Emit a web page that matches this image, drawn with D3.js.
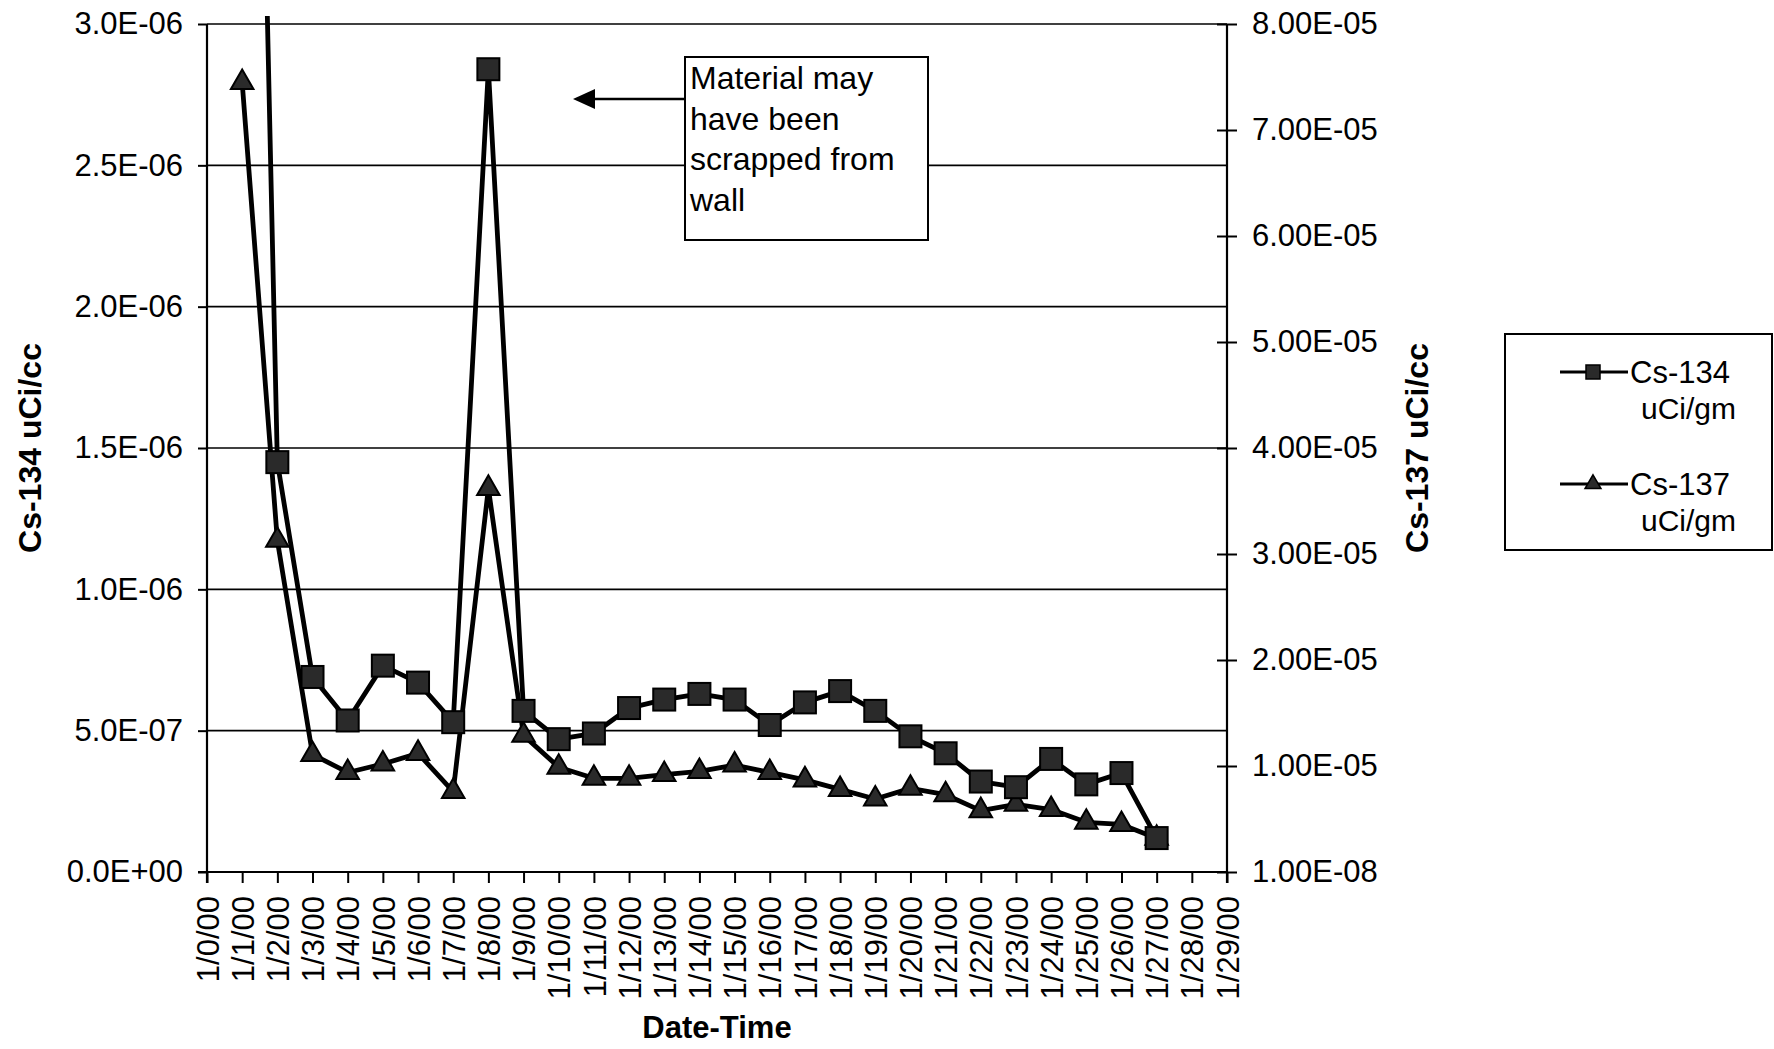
<!DOCTYPE html>
<html>
<head>
<meta charset="utf-8">
<script src="https://cdn.jsdelivr.net/npm/d3@7"></script>
<style>
  body { margin: 0; background: #fff; }
  text { font-family: "Liberation Sans", Arial, sans-serif; fill: #000; }
</style>
</head>
<body>
<div id="chart"></div>
<script>
// x axis categories (day index 0..29)
const dateLabels = ["1/0/00","1/1/00","1/2/00","1/3/00","1/4/00","1/5/00","1/6/00","1/7/00","1/8/00","1/9/00",
  "1/10/00","1/11/00","1/12/00","1/13/00","1/14/00","1/15/00","1/16/00","1/17/00","1/18/00","1/19/00",
  "1/20/00","1/21/00","1/22/00","1/23/00","1/24/00","1/25/00","1/26/00","1/27/00","1/28/00","1/29/00"];

const days = [1,2,3,4,5,6,7,8,9,10,11,12,13,14,15,16,17,18,19,20,21,22,23,24,25,26,27];

// Cs-134 uCi/gm  (left axis)
const cs134 = [7.0e-6,1.45e-6,0.69e-6,0.536e-6,0.73e-6,0.67e-6,0.53e-6,2.84e-6,0.57e-6,0.47e-6,
  0.49e-6,0.58e-6,0.61e-6,0.63e-6,0.61e-6,0.52e-6,0.60e-6,0.64e-6,0.57e-6,0.48e-6,
  0.42e-6,0.32e-6,0.30e-6,0.40e-6,0.31e-6,0.35e-6,0.12e-6];

// Cs-137 uCi/gm  (right axis)
const cs137 = [7.45e-5,3.13e-5,1.11e-5,0.94e-5,1.02e-5,1.12e-5,0.76e-5,3.62e-5,1.29e-5,0.99e-5,
  0.885e-5,0.885e-5,0.92e-5,0.95e-5,1.01e-5,0.94e-5,0.87e-5,0.78e-5,0.69e-5,0.79e-5,
  0.73e-5,0.58e-5,0.64e-5,0.59e-5,0.47e-5,0.45e-5,0.32e-5];

const leftTicks = [0, 5e-7, 1e-6, 1.5e-6, 2e-6, 2.5e-6, 3e-6];
const rightTicks = [1e-8, 1.001e-5, 2.001e-5, 3.001e-5, 4.001e-5, 5.001e-5, 6.001e-5, 7.001e-5, 8.001e-5];

const noteLines = ["Material may", "have been", "scrapped from", "wall"];

// excel style 0.0E+00
function sci(v, dec) {
  if (v === 0) return (0).toFixed(dec) + "E+00";
  let e = Math.floor(Math.log10(Math.abs(v)));
  let m = v / Math.pow(10, e);
  if (+m.toFixed(dec) >= 10) { m /= 10; e += 1; }
  return m.toFixed(dec) + "E" + (e < 0 ? "-" : "+") + String(Math.abs(e)).padStart(2, "0");
}

const width = 1774, height = 1049;
const margin = {top: 24, right: 547, bottom: 177, left: 207};
const x0 = margin.left, x1 = width - margin.right;
const y0 = margin.top, y1 = height - margin.bottom;

const svg = d3.select("#chart").append("svg")
  .attr("width", width)
  .attr("height", height);

svg.append("rect").attr("width", width).attr("height", height).attr("fill", "#fff");

const x = d3.scaleLinear().domain([0, 29]).range([x0, x1]);
const yL = d3.scaleLinear().domain([0, 3e-6]).range([y1, y0]);
const yR = d3.scaleLinear().domain([1e-8, 8.001e-5]).range([y1, y0]);

// gridlines
svg.append("g").selectAll("line")
  .data(leftTicks)
  .enter().append("line")
  .attr("x1", x0).attr("x2", x1)
  .attr("y1", d => yL(d)).attr("y2", d => yL(d))
  .attr("stroke", "#000").attr("stroke-width", 1.6);

// left axis
const gL = svg.append("g")
  .attr("transform", "translate(" + x0 + ",0)")
  .call(d3.axisLeft(yL).tickValues(leftTicks).tickSize(9).tickPadding(15).tickFormat(d => sci(d, 1)));

// right axis
const gR = svg.append("g")
  .attr("transform", "translate(" + x1 + ",0)")
  .call(d3.axisRight(yR).tickValues(rightTicks).tickSize(10).tickPadding(15).tickFormat(d => sci(d, 2)));
gR.selectAll(".tick line").attr("x1", -10);

// x axis
const gX = svg.append("g")
  .attr("transform", "translate(0," + y1 + ")")
  .call(d3.axisBottom(x).tickValues(d3.range(30)).tickSize(11).tickFormat(i => dateLabels[i]));
gX.selectAll(".tick text")
  .attr("transform", "rotate(-90)")
  .attr("text-anchor", "end")
  .attr("x", -24).attr("y", 0).attr("dy", "0.36em");

[gL, gR, gX].forEach(g => {
  g.select(".domain").remove();
  g.selectAll(".tick line").attr("stroke", "#000").attr("stroke-width", 2);
  g.selectAll(".tick text").style("font-size", "31px").attr("fill", "#000");
});

// axis lines
svg.append("line").attr("x1", x0).attr("x2", x0).attr("y1", y0).attr("y2", y1 + 11)
  .attr("stroke", "#000").attr("stroke-width", 2.2);
svg.append("line").attr("x1", x1).attr("x2", x1).attr("y1", y0).attr("y2", y1 + 11)
  .attr("stroke", "#000").attr("stroke-width", 2.2);
svg.append("line").attr("x1", x0 - 9).attr("x2", x1).attr("y1", y1).attr("y2", y1)
  .attr("stroke", "#000").attr("stroke-width", 2.2);

// clip so the first Cs-134 point runs off the top
svg.append("clipPath").attr("id", "plotclip")
  .append("rect").attr("x", x0 - 10).attr("y", y0 - 8).attr("width", x1 - x0 + 20).attr("height", y1 - y0 + 16);

const d134 = days.map((d, i) => ({day: d, v: cs134[i]}));
const d137 = days.map((d, i) => ({day: d, v: cs137[i]}));

const plot = svg.append("g").attr("clip-path", "url(#plotclip)");

const line137 = d3.line().x(d => x(d.day)).y(d => yR(d.v));
const line134 = d3.line().x(d => x(d.day)).y(d => yL(d.v));

plot.append("path").datum(d137)
  .attr("d", line137)
  .attr("fill", "none").attr("stroke", "#000").attr("stroke-width", 4.8).attr("stroke-linejoin", "round");

plot.selectAll(".tri").data(d137).enter().append("path")
  .attr("class", "tri")
  .attr("d", d3.symbol(d3.symbolTriangle, 220))
  .attr("transform", d => "translate(" + x(d.day) + "," + yR(d.v) + ")")
  .attr("fill", "#2a2a2a").attr("stroke", "#000").attr("stroke-width", 2);

plot.append("path").datum(d134)
  .attr("d", line134)
  .attr("fill", "none").attr("stroke", "#000").attr("stroke-width", 4.8).attr("stroke-linejoin", "round");

plot.selectAll(".sq").data(d134.filter(d => yL(d.v) > y0)).enter().append("rect")
  .attr("class", "sq")
  .attr("x", d => x(d.day) - 11).attr("y", d => yL(d.v) - 11)
  .attr("width", 22).attr("height", 22)
  .attr("fill", "#2a2a2a").attr("stroke", "#000").attr("stroke-width", 2);

// annotation
const note = svg.append("g");
note.append("line").attr("x1", 685).attr("x2", 590).attr("y1", 99).attr("y2", 99)
  .attr("stroke", "#000").attr("stroke-width", 2.5);
note.append("path").attr("d", "M573,99L595,89L595,109Z").attr("fill", "#000");
note.append("rect").attr("x", 685).attr("y", 57).attr("width", 243).attr("height", 183)
  .attr("fill", "#fff").attr("stroke", "#000").attr("stroke-width", 2);
note.selectAll("text").data(noteLines).enter().append("text")
  .attr("x", 690).attr("y", (d, i) => 89 + i * 40.5)
  .style("font-size", "32px")
  .text(d => d);

// axis titles
svg.append("text")
  .attr("transform", "translate(41," + ((y0 + y1) / 2) + ") rotate(-90)")
  .attr("text-anchor", "middle")
  .style("font-size", "32px").style("font-weight", "bold")
  .text("Cs-134 uCi/cc");

svg.append("text")
  .attr("transform", "translate(1428," + ((y0 + y1) / 2) + ") rotate(-90)")
  .attr("text-anchor", "middle")
  .style("font-size", "32px").style("font-weight", "bold")
  .text("Cs-137 uCi/cc");

svg.append("text")
  .attr("x", (x0 + x1) / 2).attr("y", 1038)
  .attr("text-anchor", "middle")
  .style("font-size", "31px").style("font-weight", "bold")
  .text("Date-Time");

// legend
const legend = svg.append("g");
legend.append("rect").attr("x", 1505).attr("y", 334).attr("width", 267).attr("height", 216)
  .attr("fill", "#fff").attr("stroke", "#000").attr("stroke-width", 2);

const legItems = [
  {name: ["Cs-134", "uCi/gm"], shape: "sq", y: 372},
  {name: ["Cs-137", "uCi/gm"], shape: "tri", y: 484}
];
const li = legend.selectAll(".li").data(legItems).enter().append("g")
  .attr("transform", d => "translate(0," + d.y + ")");
li.append("line").attr("x1", 1560).attr("x2", 1628).attr("y1", 0).attr("y2", 0)
  .attr("stroke", "#000").attr("stroke-width", 3);
li.filter(d => d.shape === "sq").append("rect")
  .attr("x", 1586).attr("y", -7).attr("width", 14).attr("height", 14)
  .attr("fill", "#2a2a2a").attr("stroke", "#000").attr("stroke-width", 1.5);
li.filter(d => d.shape === "tri").append("path")
  .attr("d", d3.symbol(d3.symbolTriangle, 110))
  .attr("transform", "translate(1593,0)")
  .attr("fill", "#2a2a2a").attr("stroke", "#000").attr("stroke-width", 1.5);
li.append("text").attr("x", 1630).attr("y", 11).style("font-size", "31px").text(d => d.name[0]);
li.append("text").attr("x", 1641).attr("y", 47).style("font-size", "30px").text(d => d.name[1]);
</script>
</body>
</html>
